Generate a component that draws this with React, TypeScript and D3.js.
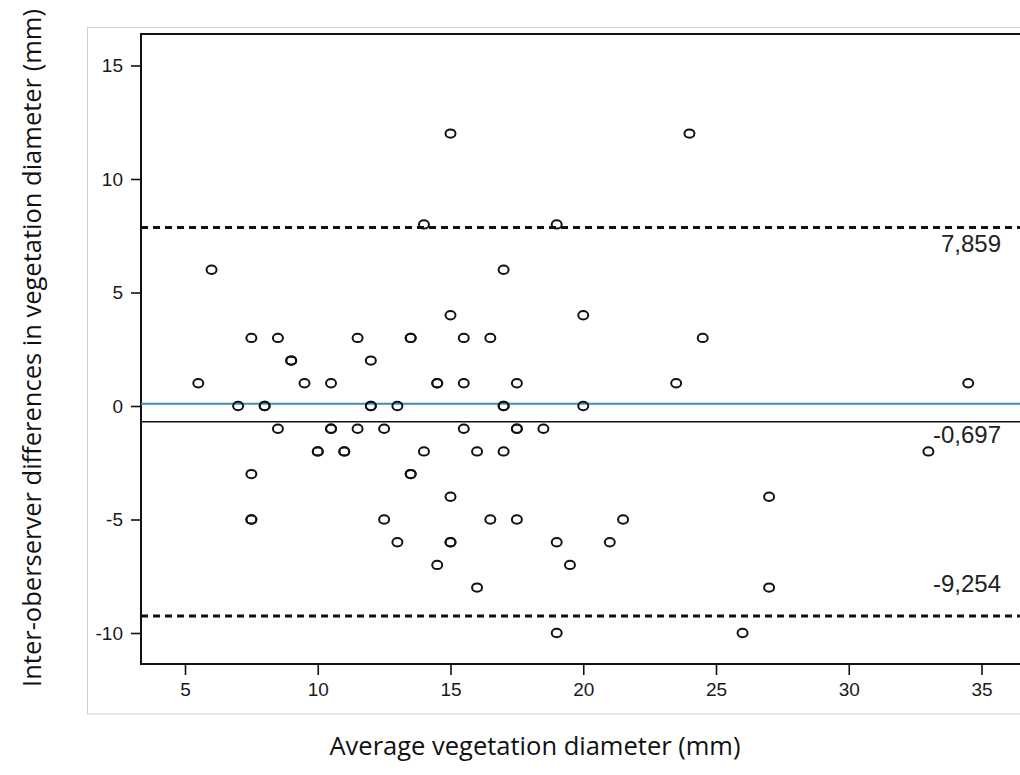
import React, { useEffect, useRef } from 'react';
import * as d3 from 'd3';

// Average vegetation diameter (mm) of each case
const averageDiameter: number[] = [
  15, 24,
  14, 19,
  6, 17,
  15, 20,
  7.5, 8.5, 11.5, 13.5, 13.5, 15.5, 16.5, 24.5,
  9, 9, 12,
  5.5, 9.5, 10.5, 14.5, 14.5, 15.5, 17.5, 23.5, 34.5,
  7, 8, 8, 12, 12, 13, 17, 17, 20,
  8.5, 10.5, 10.5, 11.5, 12.5, 15.5, 17.5, 17.5, 18.5,
  10, 10, 11, 11, 14, 16, 17, 33,
  7.5, 13.5, 13.5,
  15, 27,
  7.5, 7.5, 12.5, 16.5, 17.5, 21.5,
  13, 15, 15, 19, 21,
  14.5, 19.5,
  16, 27,
  19, 26,
];

// Inter-observer difference (mm) of each case
const difference: number[] = [
  12, 12,
  8, 8,
  6, 6,
  4, 4,
  3, 3, 3, 3, 3, 3, 3, 3,
  2, 2, 2,
  1, 1, 1, 1, 1, 1, 1, 1, 1,
  0, 0, 0, 0, 0, 0, 0, 0, 0,
  -1, -1, -1, -1, -1, -1, -1, -1, -1,
  -2, -2, -2, -2, -2, -2, -2, -2,
  -3, -3, -3,
  -4, -4,
  -5, -5, -5, -5, -5, -5,
  -6, -6, -6, -6, -6,
  -7, -7,
  -8, -8,
  -10, -10,
];

const xTicks: number[] = [5, 10, 15, 20, 25, 30, 35];
const yTicks: number[] = [15, 10, 5, 0, -5, -10];

const limitValues: number[] = [7.859, -0.697, -9.254];
const limitLabels: string[] = ['7,859', '-0,697', '-9,254'];
const zeroReference = 0.1;

const W = 1020;
const H = 775;

export default function App() {
  const ref = useRef<SVGSVGElement>(null);

  useEffect(() => {
    const svg = d3.select(ref.current);
    svg.selectAll('*').remove();

    const x = d3.scaleLinear().domain([5, 35]).range([185, 981.5]);
    const y = d3.scaleLinear().domain([0, -10]).range([406, 633]);

    const left = 141;
    const top = 34;
    const bottom = 664;
    const right = 1040;
    const tickFont = '"Liberation Sans", Arial, sans-serif';

    // outer gray border
    svg.append('rect')
      .attr('x', 87.5).attr('y', 27.5)
      .attr('width', 960).attr('height', 686.5)
      .attr('fill', 'none').attr('stroke', '#cfcfcf').attr('stroke-width', 1);

    // top frame line
    svg.append('line')
      .attr('x1', left).attr('x2', right).attr('y1', top).attr('y2', top)
      .attr('stroke', '#111').attr('stroke-width', 2);

    // y axis
    const yAxis = d3.axisLeft(y).tickValues(yTicks).tickSize(10).tickPadding(8)
      .tickFormat((d) => String(d));
    const gy = svg.append('g').attr('transform', `translate(${left},0)`).call(yAxis);
    gy.attr('font-size', 19).attr('font-family', tickFont);
    gy.select('.domain').remove();
    gy.selectAll('.tick line').attr('stroke', '#111').attr('stroke-width', 1.6);
    gy.selectAll('.tick text').attr('fill', '#1a1a1a');
    svg.append('line')
      .attr('x1', left).attr('x2', left).attr('y1', top - 1).attr('y2', bottom + 1)
      .attr('stroke', '#111').attr('stroke-width', 2);

    // x axis
    const xAxis = d3.axisBottom(x).tickValues(xTicks).tickSize(11).tickPadding(8)
      .tickFormat((d) => String(d));
    const gx = svg.append('g').attr('transform', `translate(0,${bottom})`).call(xAxis);
    gx.attr('font-size', 19).attr('font-family', tickFont);
    gx.select('.domain').remove();
    gx.selectAll('.tick line').attr('stroke', '#111').attr('stroke-width', 1.6);
    gx.selectAll('.tick text').attr('fill', '#1a1a1a');
    svg.append('line')
      .attr('x1', left - 1).attr('x2', right).attr('y1', bottom).attr('y2', bottom)
      .attr('stroke', '#111').attr('stroke-width', 2);

    // zero reference line (blue)
    svg.append('line')
      .attr('x1', left).attr('x2', right)
      .attr('y1', y(zeroReference)).attr('y2', y(zeroReference))
      .attr('stroke', '#3f8dbd').attr('stroke-width', 1.8);

    // mean line and limits of agreement
    limitValues.forEach((v, i) => {
      const isMean = i === 1;
      svg.append('line')
        .attr('x1', left).attr('x2', right)
        .attr('y1', y(v)).attr('y2', y(v))
        .attr('stroke', '#111')
        .attr('stroke-width', isMean ? 1.6 : 3)
        .attr('stroke-dasharray', isMean ? null : '7 5');
    });

    // limit labels
    const labelOffsets = [24, 21.5, -24];
    limitValues.forEach((v, i) => {
      svg.append('text')
        .attr('x', 1001).attr('y', y(v) + labelOffsets[i])
        .attr('text-anchor', 'end')
        .attr('font-family', tickFont)
        .attr('font-size', 24).attr('fill', '#222')
        .text(limitLabels[i]);
    });

    // points
    svg.append('g').selectAll('ellipse')
      .data(averageDiameter.map((a, i) => [a, difference[i]]))
      .join('ellipse')
      .attr('cx', (d) => x(d[0]))
      .attr('cy', (d) => y(d[1]))
      .attr('rx', 5)
      .attr('ry', 4.2)
      .attr('fill', 'none')
      .attr('stroke', '#111')
      .attr('stroke-width', 2);

    // axis titles
    svg.append('text')
      .attr('x', 535).attr('y', 755)
      .attr('text-anchor', 'middle')
      .attr('font-family', '"Open Sans", sans-serif')
      .attr('font-size', 25.5).attr('fill', '#111')
      .text('Average vegetation diameter (mm)');

    svg.append('text')
      .attr('transform', 'translate(41,348) rotate(-90)')
      .attr('text-anchor', 'middle')
      .attr('font-family', '"Open Sans", sans-serif')
      .attr('font-size', 25.5).attr('fill', '#111')
      .text('Inter-oberserver differences in vegetation diameter (mm)');
  }, []);

  return (
    <svg
      ref={ref}
      width={W}
      height={H}
      style={{ position: 'absolute', left: 0, top: 0, background: '#fff' }}
    />
  );
}
